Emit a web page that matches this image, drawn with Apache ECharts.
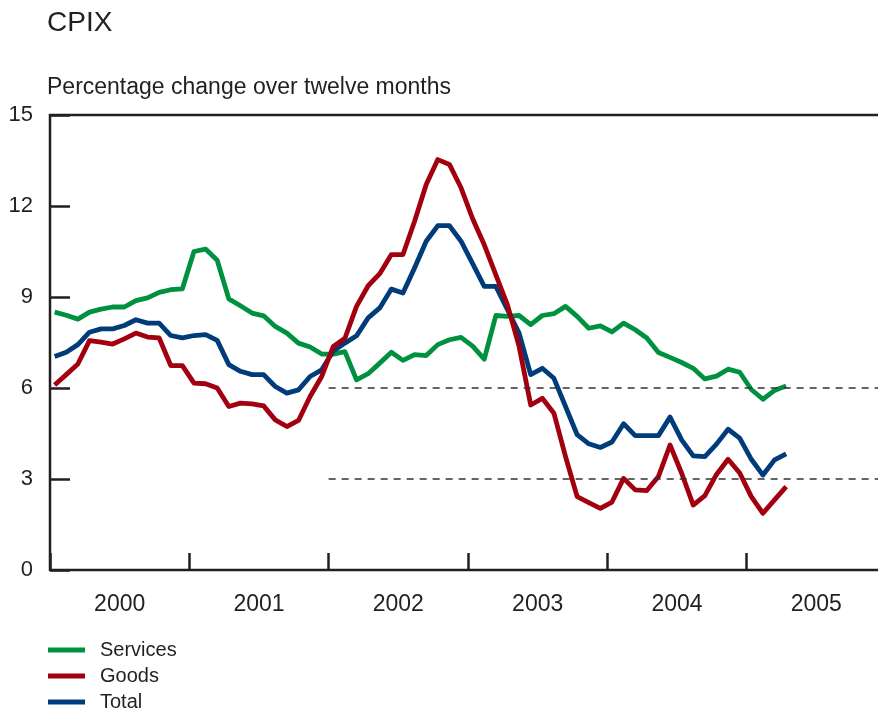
<!DOCTYPE html>
<html>
<head>
<meta charset="utf-8">
<script src="https://cdn.jsdelivr.net/npm/echarts@6/dist/echarts.min.js"></script>
<style>
  html, body { margin: 0; padding: 0; background: #fff; }
  #chart { width: 878px; height: 709px; }
</style>
</head>
<body>
<div id="chart"></div>
<script>
// monthly, Jan 2000 .. Apr 2005
const years = ['2000', '2001', '2002', '2003', '2004', '2005'];
const services = [
  8.5, 8.4, 8.27, 8.5, 8.6, 8.67, 8.67, 8.88, 8.97, 9.15, 9.24, 9.27,
  10.5, 10.58, 10.21, 8.94, 8.71, 8.47, 8.38, 8.03, 7.81, 7.48, 7.35, 7.12,
  7.12, 7.2, 6.27, 6.47, 6.82, 7.18, 6.91, 7.1, 7.07, 7.43, 7.59, 7.67,
  7.38, 6.95, 8.39, 8.36, 8.39, 8.09, 8.39, 8.45, 8.69, 8.36, 7.97, 8.05,
  7.85, 8.14, 7.92, 7.65, 7.17, 7.01, 6.84, 6.65, 6.3, 6.39, 6.62, 6.52,
  5.95, 5.63, 5.92, 6.07
];
const goods = [
  6.1, 6.44, 6.79, 7.56, 7.51, 7.45, 7.62, 7.81, 7.68, 7.65, 6.74, 6.74,
  6.16, 6.14, 6.0, 5.39, 5.5, 5.48, 5.41, 4.95, 4.73, 4.93, 5.72, 6.38,
  7.37, 7.64, 8.69, 9.37, 9.77, 10.4, 10.4, 11.5, 12.71, 13.53, 13.37, 12.6,
  11.58, 10.72, 9.73, 8.74, 7.37, 5.44, 5.66, 5.17, 3.74, 2.42, 2.22, 2.03,
  2.24, 3.02, 2.64, 2.62, 3.08, 4.12, 3.19, 2.14, 2.45, 3.15, 3.65, 3.2,
  2.42, 1.87, 2.31, 2.75
];
const total = [
  7.04, 7.18, 7.43, 7.84, 7.95, 7.95, 8.06, 8.25, 8.14, 8.14, 7.73, 7.65,
  7.73, 7.76, 7.57, 6.77, 6.55, 6.44, 6.44, 6.05, 5.83, 5.94, 6.38, 6.6,
  7.22, 7.48, 7.72, 8.31, 8.64, 9.26, 9.13, 9.96, 10.84, 11.35, 11.35, 10.84,
  10.1, 9.35, 9.35, 8.58, 7.81, 6.44, 6.65, 6.32, 5.39, 4.46, 4.16, 4.04,
  4.22, 4.82, 4.43, 4.43, 4.43, 5.04, 4.29, 3.76, 3.74, 4.15, 4.64, 4.35,
  3.65, 3.13, 3.63, 3.83
];
const targetBand = [3, 6];   // dashed lines from 2002 on

const FONT = 'Liberation Sans';
const INK = '#231f20';

// month index -> x (points sit a bit into the month)
const toPoints = arr => arr.map((v, i) => [i + 0.4, v]);

const lineSeries = (name, color, data) => ({
  name: name,
  type: 'line',
  xAxisIndex: 0,
  data: toPoints(data),
  showSymbol: false,
  symbol: 'none',
  lineStyle: { color: color, width: 4.8, join: 'round' },
  itemStyle: { color: color },
  animation: false
});

const chart = echarts.init(document.getElementById('chart'));

const totalSeries = lineSeries('Total', '#003b7a', total);
const goodsSeries = lineSeries('Goods', '#a3000f', goods);
const servicesSeries = lineSeries('Services', '#00913f', services);
servicesSeries.markLine = {
  silent: true,
  symbol: 'none',
  label: { show: false },
  lineStyle: { color: '#333', type: [7, 6], width: 1.6 },
  data: targetBand.map(v => [{ coord: [24, v] }, { coord: [72, v] }])
};

chart.setOption({
  animation: false,
  textStyle: { fontFamily: FONT, color: INK },
  title: [
    { text: 'CPIX', left: 47, top: 9, padding: 0,
      textStyle: { fontFamily: FONT, fontSize: 28, fontWeight: 'normal', color: INK } },
    { text: 'Percentage change over twelve months', left: 47, top: 76, padding: 0,
      textStyle: { fontFamily: FONT, fontSize: 23, fontWeight: 'normal', color: INK } }
  ],
  legend: {
    data: ['Services', 'Goods', 'Total'],
    orient: 'vertical',
    left: 48,
    top: 640,
    width: 200,
    height: 90,
    padding: 0,
    itemGap: 6,
    itemWidth: 37,
    itemHeight: 5,
    icon: 'rect',
    textStyle: { fontFamily: FONT, fontSize: 20, lineHeight: 19, color: INK, padding: [0, 0, 0, 10] }
  },
  // plot box runs past the right edge of the picture
  grid: {
    left: 50, top: 115, width: 836, height: 455,
    outerBoundsMode: 'none',
    show: true, borderColor: INK, borderWidth: 2.5, backgroundColor: 'transparent'
  },
  xAxis: [
    {
      type: 'value', min: 0, max: 72, interval: 12,
      position: 'bottom',
      axisLine: { show: false },
      axisTick: { show: true, inside: true, length: 17, lineStyle: { color: INK, width: 2.5 } },
      axisLabel: { show: false },
      splitLine: { show: false }
    },
    {
      type: 'category', data: years, boundaryGap: true,
      position: 'bottom',
      axisLine: { show: false },
      axisTick: { show: false },
      axisLabel: { fontFamily: FONT, fontSize: 23, color: INK, margin: 23 },
      splitLine: { show: false }
    }
  ],
  yAxis: {
    type: 'value', min: 0, max: 15, interval: 3,
    axisLine: { show: false },
    axisTick: { show: true, inside: true, length: 20, lineStyle: { color: INK, width: 2.5 } },
    axisLabel: { fontFamily: FONT, fontSize: 22, color: INK, margin: 17 },
    splitLine: { show: false }
  },
  series: [servicesSeries, totalSeries, goodsSeries]
});
</script>
</body>
</html>
